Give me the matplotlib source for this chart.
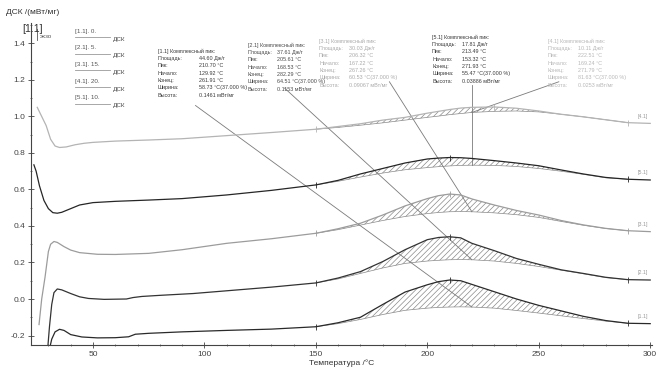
import numpy as np
import matplotlib.pyplot as plt
from matplotlib.lines import Line2D
from matplotlib.ticker import MultipleLocator, FormatStrFormatter

plt.rcParams['font.family'] = ['Liberation Sans', 'DejaVu Sans']
plt.rcParams['hatch.linewidth'] = 0.5
plt.rcParams['hatch.color'] = '#8a8a8a'

W, H = 665, 372

# common right-hand part of every curve, deg C
t_tail = [150, 160, 170, 180, 190, 200, 205, 210, 215, 220, 230, 240, 250, 260, 270, 280, 290, 300]

# curves top -> bottom
t1 = [25, 27, 29, 31, 33, 35, 38, 42, 46, 50, 60, 75, 90, 110, 130] + t_tail
v1 = [1.05, 1.0, 0.95, 0.875, 0.838, 0.83, 0.833, 0.845, 0.853, 0.858, 0.865, 0.871, 0.878, 0.895, 0.912,
      0.93, 0.945, 0.96, 0.98, 0.995, 1.018, 1.028, 1.038, 1.046, 1.05, 1.052, 1.045, 1.03, 1.012, 0.998, 0.982, 0.966, 0.962]

t2 = [23.5, 24.5, 26, 28, 30, 32, 34, 36, 40, 44, 50, 60, 75, 90, 110, 130] + t_tail
v2 = [0.735, 0.70, 0.62, 0.54, 0.495, 0.473, 0.47, 0.475, 0.495, 0.515, 0.528, 0.535, 0.542, 0.55, 0.57, 0.595,
      0.625, 0.65, 0.685, 0.715, 0.745, 0.767, 0.772, 0.775, 0.774, 0.77, 0.758, 0.745, 0.73, 0.707, 0.685, 0.666, 0.656, 0.652]

t3 = [25.8, 27, 28.5, 30, 31, 32.5, 34, 37, 40, 44, 52, 60, 75, 90, 110, 130] + t_tail
v3 = [-0.14, 0.0, 0.12, 0.26, 0.30, 0.315, 0.31, 0.287, 0.268, 0.254, 0.245, 0.244, 0.25, 0.27, 0.305, 0.33,
      0.36, 0.385, 0.415, 0.46, 0.51, 0.55, 0.566, 0.575, 0.57, 0.548, 0.515, 0.485, 0.46, 0.43, 0.406, 0.387, 0.374, 0.369]

t4 = [29.5, 30.5, 31.5, 32.5, 34, 36, 40, 44, 48, 55, 65, 68, 72, 80, 95, 110, 130] + t_tail
v4 = [-0.3, -0.15, -0.03, 0.035, 0.055, 0.05, 0.03, 0.012, 0.003, -0.002, 0.0, 0.008, 0.014, 0.02, 0.03, 0.045, 0.065,
      0.088, 0.115, 0.15, 0.205, 0.27, 0.325, 0.337, 0.341, 0.335, 0.305, 0.265, 0.222, 0.19, 0.16, 0.14, 0.119, 0.106, 0.104]

t5 = [30, 31.5, 33, 35, 37, 40, 45, 52, 60, 66, 69, 75, 90, 110, 130] + t_tail
v5 = [-0.3, -0.22, -0.18, -0.166, -0.172, -0.195, -0.208, -0.213, -0.212, -0.207, -0.193, -0.188, -0.18, -0.172, -0.165,
      -0.152, -0.13, -0.1, -0.03, 0.038, 0.078, 0.095, 0.104, 0.1, 0.08, 0.04, 0.0, -0.035, -0.065, -0.095, -0.118, -0.133, -0.135]

# peak baselines, 150..290
t_base = t_tail[:-1]
b1 = [0.93, 0.94, 0.952, 0.965, 0.98, 0.995, 1.002, 1.01, 1.016, 1.022, 1.028, 1.03, 1.025, 1.012, 0.998, 0.982, 0.966]
b2 = [0.625, 0.645, 0.668, 0.69, 0.708, 0.72, 0.725, 0.729, 0.732, 0.733, 0.732, 0.726, 0.715, 0.70, 0.683, 0.664, 0.656]
b3 = [0.36, 0.38, 0.405, 0.43, 0.452, 0.468, 0.474, 0.478, 0.479, 0.478, 0.472, 0.462, 0.447, 0.425, 0.404, 0.386, 0.374]
b4 = [0.088, 0.11, 0.14, 0.17, 0.195, 0.208, 0.212, 0.215, 0.216, 0.215, 0.208, 0.195, 0.178, 0.158, 0.138, 0.117, 0.106]
b5 = [-0.152, -0.135, -0.112, -0.085, -0.062, -0.05, -0.046, -0.044, -0.043, -0.044, -0.05, -0.063, -0.077, -0.092, -0.107, -0.121, -0.133]

curve_names = ['[4.1]', '[5.1]', '[3.1]', '[2.1]', '[1.1]']
curve_colors = ['#b4b4b4', '#262626', '#9c9c9c', '#333333', '#2a2a2a']

legend_labels = ['[1.1]. 0.', '[2.1]. 5.', '[3.1]. 15.', '[4.1]. 20.', '[5.1]. 10.']

row_names = ['Площадь:', 'Пик:', 'Начало:', 'Конец:', 'Ширина:', 'Высота:']
box_titles = ['[1.1] Комплексный пик:', '[2.1] Комплексный пик:', '[3.1] Комплексный пик:',
              '[5.1] Комплексный пик:', '[4.1] Комплексный пик:']
box_values = [
    ['44.60 Дж/г', '210.70 °C', '129.92 °C', '261.91 °C', '58.73 °C(37.000 %)', '0.1461 мВт/мг'],
    ['37.61 Дж/г', '205.61 °C', '168.53 °C', '282.29 °C', '64.51 °C(37.000 %)', '0.1153 мВт/мг'],
    ['30.03 Дж/г', '206.32 °C', '167.22 °C', '267.26 °C', '60.53 °C(37.000 %)', '0.09067 мВт/мг'],
    ['17.81 Дж/г', '213.49 °C', '153.32 °C', '271.93 °C', '55.47 °C(37.000 %)', '0.03886 мВт/мг'],
    ['10.11 Дж/г', '222.51 °C', '169.24 °C', '271.79 °C', '81.63 °C(37.000 %)', '0.0253 мВт/мг'],
]

fig = plt.figure(figsize=(W / 100, H / 100), dpi=100)
ax = fig.add_axes([31 / W, 1 - 345 / H, (652 - 31) / W, (345 - 23) / H])

def px(x, y):
    return x / W, 1 - y / H

curves = [(t1, v1, b1), (t2, v2, b2), (t3, v3, b3), (t4, v4, b4), (t5, v5, b5)]
for (t, v, b), col, name in zip(curves, curve_colors, curve_names):
    ax.plot(t, v, color=col, lw=0.9, zorder=3)
    idx = [t.index(x) for x in t_base]
    vv = [v[i] for i in idx]
    ax.plot(t_base, b, color='#8a8a8a', lw=0.5, zorder=2)
    ax.fill_between(t_base, b, vv, facecolor='none', edgecolor='#8a8a8a', hatch='//////', lw=0, zorder=1)
    # onset / end / peak marks
    ip = int(np.argmax(vv))
    for i in [idx[0], idx[-1], idx[ip]]:
        ax.plot(t[i], v[i], marker='|', ms=4, mew=0.6, color=col, zorder=4)
    ax.text(t[-1] - 1, v[-1] + 0.025, name, fontsize=3.8, color='#999999', ha='right', va='bottom')

# leader lines from the peak boxes
anchors = [(96, 1.06), (136, 1.155), (183, 1.19), (220, 1.17), (259, 1.19)]
base_for_box = [b5, b4, b3, b2, b1]
for (ta, va), b in zip(anchors, base_for_box):
    i = t_base.index(220)
    ax.plot([ta, t_base[i]], [va, b[i]], color='#7a7a7a', lw=0.6, zorder=2)

# peak boxes
box_pos = [(158, 51, 41), (248, 45, 29), (319, 41, 30), (432, 37, 30), (548, 41, 30)]
box_cols = ['#3a3a3a', '#4a4a4a', '#aaaaaa', '#3a3a3a', '#b8b8b8']
for (x0, y0, dx), title, vals, col in zip(box_pos, box_titles, box_values, box_cols):
    fig.text(*px(x0, y0), title, fontsize=3.9, color=col, va='center')
    for k, (rn, vl) in enumerate(zip(row_names, vals)):
        yy = y0 + 7.4 * (k + 1)
        fig.text(*px(x0, yy), rn, fontsize=3.9, color=col, va='center')
        fig.text(*px(x0 + dx, yy), vl, fontsize=3.9, color=col, va='center')

# legend at top-left
for k, lab in enumerate(legend_labels):
    y = 31 + 16.7 * k
    fig.text(*px(75, y), lab, fontsize=4.5, color='#555555', va='center')
    fig.add_artist(Line2D([75 / W, 110 / W], [1 - (y + 6) / H] * 2, color='#999999', lw=0.6))
    fig.text(*px(113, y + 8), 'ДСК', fontsize=4.5, color='#444444', va='center')

fig.text(*px(6, 12), 'ДСК /(мВт/мг)', fontsize=6, color='#333333', va='center')
fig.text(*px(22, 29), '[1.1]', fontsize=7.5, color='#333333', va='center')
fig.add_artist(Line2D([37 / W, 37 / W], [1 - 29 / H, 1 - 40 / H], color='#555555', lw=0.6))
fig.text(*px(40, 36), 'экзо', fontsize=4.5, color='#555555', va='center')

ax.set_xlim(22.2, 300.8)
ax.set_ylim(-0.252, 1.512)
ax.xaxis.set_major_locator(MultipleLocator(50))
ax.xaxis.set_minor_locator(MultipleLocator(10))
ax.yaxis.set_major_locator(MultipleLocator(0.2))
ax.yaxis.set_minor_locator(MultipleLocator(0.1))
ax.yaxis.set_major_formatter(FormatStrFormatter('%.1f'))
ax.set_xticks([50, 100, 150, 200, 250, 300])
ax.set_yticks([-0.2, 0.0, 0.2, 0.4, 0.6, 0.8, 1.0, 1.2, 1.4])
ax.tick_params(which='major', direction='inout', length=4, width=0.6, labelsize=6, colors='#444444', pad=2)
ax.tick_params(which='minor', direction='inout', length=2, width=0.5, colors='#444444')
for s in ['top', 'right']:
    ax.spines[s].set_visible(False)
for s in ['left', 'bottom']:
    ax.spines[s].set_color('#444444')
    ax.spines[s].set_linewidth(0.8)
ax.set_xlabel('Температура /°C', fontsize=6, color='#333333', labelpad=1)

fig.savefig('out.png', dpi=100)
